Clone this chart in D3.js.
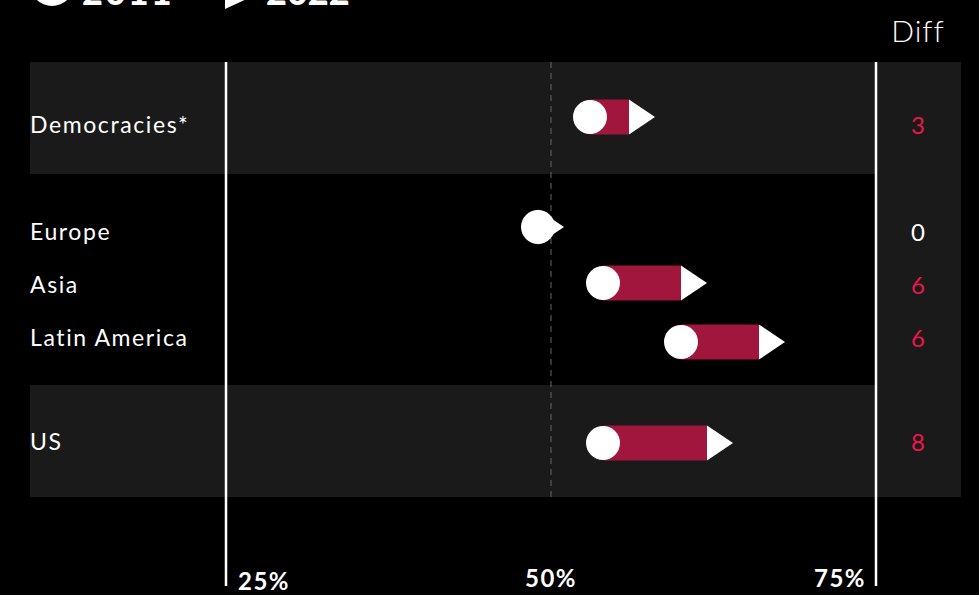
<!DOCTYPE html>
<html>
<head>
<meta charset="utf-8">
<script src="https://cdn.jsdelivr.net/npm/d3@7"></script>
<style>
  html, body { margin: 0; padding: 0; background: #000; }
  svg { display: block; }
  text { font-family: Lato, "Open Sans", sans-serif; }
</style>
</head>
<body>
<svg id="chart" width="979" height="595"></svg>
<script>
// Share of respondents, 2011 vs 2022
const regions = ["Democracies*", "Europe", "Asia", "Latin America", "US"];
const values2011 = [53, 49, 54, 60, 54];
const values2022 = [56, 49, 60, 66, 62];
const highlighted = ["Democracies*", "US"];
const tickValues = [25, 50, 75];
const tickLabels = ["25%", "50%", "75%"];
const legendLabels = ["2011", "2022"];

const rows = regions.map((r, i) => ({
  region: r,
  start: values2011[i],
  end: values2022[i],
  diff: values2022[i] - values2011[i]
}));

const svg = d3.select("#chart");

const x = d3.scaleLinear().domain([25, 75]).range([226, 876]);
// Mark rows and text rows sit on slightly different baselines
const y = d3.scaleOrdinal().domain(regions).range([117, 227, 283, 342, 443]);
const yText = d3.scaleOrdinal().domain(regions).range([124, 231, 284, 337, 441]);
const bandTop = d3.scaleOrdinal().domain(highlighted).range([62, 385]);

const barColor = "#a1163d";
const diffColor = "#e8174b";
const bandColor = "#1a1a1a";
const r = 17, barH = 35, triLen = 26;

// Shaded panels: the diff column and the highlighted rows
svg.append("rect")
  .attr("x", x(75)).attr("y", 62)
  .attr("width", 961 - x(75)).attr("height", 497 - 62)
  .attr("fill", bandColor);

svg.append("g").selectAll("rect")
  .data(highlighted)
  .join("rect")
  .attr("x", 30).attr("y", d => bandTop(d))
  .attr("width", x(75) - 30).attr("height", 112)
  .attr("fill", bandColor);

// 50% reference line
svg.append("line")
  .attr("x1", x(50)).attr("x2", x(50))
  .attr("y1", 62).attr("y2", 497)
  .attr("stroke", "#666").attr("stroke-width", 1)
  .attr("stroke-dasharray", "6,5");

// Outer gridlines at 25% and 75%
svg.append("g").selectAll("line")
  .data([25, 75])
  .join("line")
  .attr("x1", d => x(d)).attr("x2", d => x(d))
  .attr("y1", 62).attr("y2", 586)
  .attr("stroke", "#fff").attr("stroke-width", 2.5);

// Axis labels
svg.append("g").selectAll("text")
  .data(tickValues)
  .join("text")
  .attr("x", (d, i) => i === 0 ? x(d) + 12 : i === 2 ? x(d) - 10 : x(d))
  .attr("y", (d, i) => i === 0 ? 590 : 587)
  .attr("text-anchor", (d, i) => i === 0 ? "start" : i === 2 ? "end" : "middle")
  .attr("fill", "#fff")
  .attr("font-size", 24)
  .attr("font-weight", 700)
  .attr("letter-spacing", 1.5)
  .text((d, i) => tickLabels[i]);

// Row labels
svg.append("g").selectAll("text")
  .data(rows)
  .join("text")
  .attr("x", 30)
  .attr("y", d => yText(d.region))
  .attr("dominant-baseline", "central")
  .attr("fill", "#fff")
  .attr("font-size", 23)
  .attr("letter-spacing", 1.6)
  .text(d => d.region);

// Diff column
svg.append("text")
  .attr("x", 918).attr("y", 42)
  .attr("text-anchor", "middle")
  .attr("fill", "#fff")
  .attr("font-size", 30)
  .attr("font-weight", 300)
  .attr("letter-spacing", 1)
  .text("Diff");

svg.append("g").selectAll("text")
  .data(rows)
  .join("text")
  .attr("x", 918)
  .attr("y", d => yText(d.region))
  .attr("dominant-baseline", "central")
  .attr("text-anchor", "middle")
  .attr("fill", d => d.diff === 0 ? "#fff" : diffColor)
  .attr("font-size", 24)
  .text(d => d.diff);

// Change marks: bar from 2011 to 2022, arrow head at 2022, dot at 2011
const marks = svg.append("g").selectAll("g")
  .data(rows)
  .join("g")
  .attr("transform", d => `translate(0,${y(d.region)})`);

marks.append("rect")
  .attr("x", d => x(d.start))
  .attr("y", -barH / 2)
  .attr("width", d => Math.max(0, x(d.end) - x(d.start)))
  .attr("height", barH)
  .attr("fill", barColor);

marks.append("path")
  .attr("d", d => {
    const bx = x(d.end);
    return `M${bx},${-barH / 2}L${bx + triLen},0L${bx},${barH / 2}Z`;
  })
  .attr("fill", "#fff");

marks.append("circle")
  .attr("cx", d => x(d.start))
  .attr("cy", 0)
  .attr("r", r)
  .attr("fill", "#fff");

// Legend (partly above the visible area)
const legend = svg.append("g");
legend.append("circle").attr("cx", 52).attr("cy", -16).attr("r", 22).attr("fill", "#fff");
legend.append("text").attr("x", 82).attr("y", 5)
  .attr("fill", "#fff").attr("font-size", 36).attr("font-weight", 900)
  .attr("letter-spacing", 2)
  .text(legendLabels[0]);
legend.append("path")
  .attr("d", "M225,-26L262,-8L225,9Z")
  .attr("fill", "#fff");
legend.append("text").attr("x", 266).attr("y", 5)
  .attr("fill", "#fff").attr("font-size", 36).attr("font-weight", 900)
  .text(legendLabels[1]);
</script>
</body>
</html>
